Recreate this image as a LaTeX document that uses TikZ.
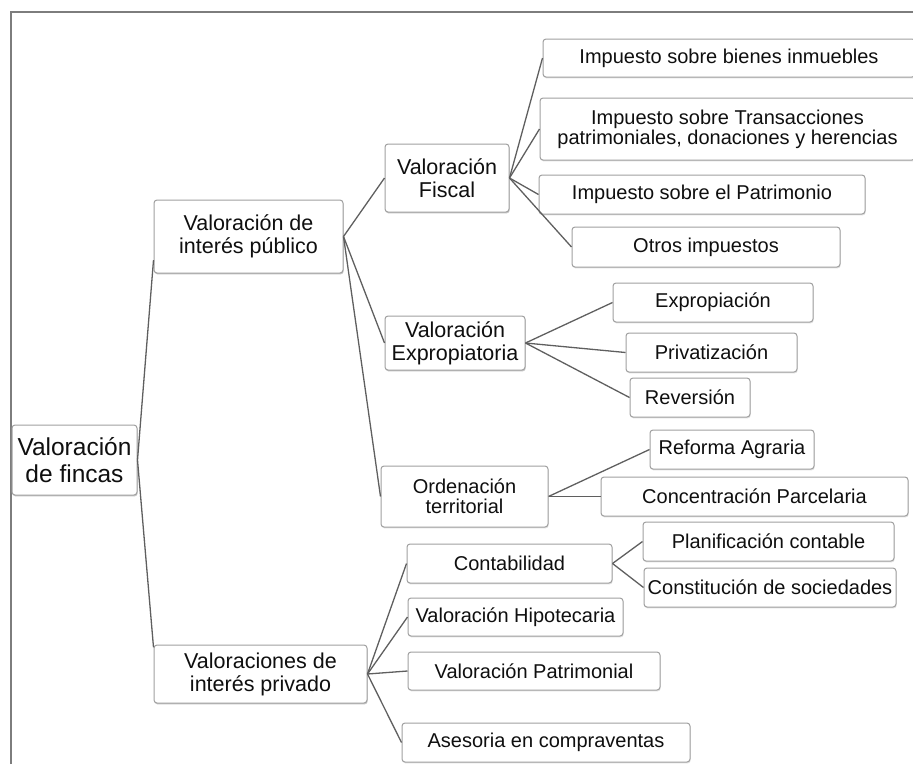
\documentclass[tikz,border=0pt]{standalone}
\usepackage{fontspec}
\setmainfont{Liberation Sans}
\usetikzlibrary{shadows}

\definecolor{boxgray}{RGB}{160,160,160}
\definecolor{linegray}{RGB}{95,95,95}
\definecolor{framegray}{RGB}{125,125,125}
\definecolor{textgray}{RGB}{15,15,15}

\tikzset{
    box/.style={draw=boxgray, line width=1pt, rounded corners=3pt, fill=white,
        align=center, inner sep=0pt, text=textgray,
        drop shadow={shadow xshift=0.6pt, shadow yshift=-1.4pt, opacity=0.25}},
    rootbox/.style={box, font=\fontsize{24.5}{27}\selectfont},
    midbox/.style={box, font=\fontsize{21.5}{23}\selectfont},
    leafbox/.style={box, font=\fontsize{20}{20}\selectfont},
    link/.style={draw=linegray, line width=1.3pt}
}

\begin{document}
\begin{tikzpicture}[x=1pt, y=-1pt]
    \useasboundingbox (0,0) rectangle (913,764);

    % frame
    \draw[framegray, line width=2pt] (11,764) -- (11,12) -- (913,12);

    \begin{scope}[every node/.style={leafbox}]

        \node[rootbox, minimum width=125pt, minimum height=70pt] (root) at (74.5,460) {Valoración\\de fincas};

        \node[midbox, minimum width=189pt, minimum height=73pt] (pub) at (248.5,236.5) {Valoración de\\interés público};
        \node[midbox, minimum width=213pt, minimum height=58pt] (priv) at (260.5,674) {Valoraciones de\\interés privado};

        \node[midbox, minimum width=124pt, minimum height=68pt] (fisc) at (447,178) {Valoración\\Fiscal};
        \node[midbox, minimum width=140pt, minimum height=54pt] (expr) at (455,343) {Valoración\\Expropiatoria};
        \node[minimum width=167pt, minimum height=61pt] (orde) at (464.5,496.5) {Ordenación\\territorial};

        \node[minimum width=372pt, minimum height=38pt] (ibi) at (729,58) {Impuesto sobre bienes inmuebles};
        \node[minimum width=375pt, minimum height=62pt] (itp) at (727.5,129) {Impuesto sobre Transacciones\\patrimoniales, donaciones y herencias};
        \node[minimum width=326pt, minimum height=39pt] (ipat) at (702,194.5) {Impuesto sobre el Patrimonio};
        \node[minimum width=268pt, minimum height=40pt] (otros) at (706,247) {Otros impuestos};

        \node[minimum width=200pt, minimum height=39pt] (expro) at (713,302.5) {Expropiación};
        \node[minimum width=171pt, minimum height=39pt] (privat) at (711.5,352.5) {Privatización};
        \node[minimum width=120pt, minimum height=39pt] (rever) at (690,397.5) {Reversión};

        \node[minimum width=164pt, minimum height=39pt] (refor) at (732,449.5) {Reforma Agraria};
        \node[minimum width=307pt, minimum height=39pt] (conc) at (754.5,496.5) {Concentración Parcelaria};

        \node[minimum width=205pt, minimum height=39pt] (conta) at (509.5,563.5) {Contabilidad};
        \node[minimum width=215pt, minimum height=38pt] (hipo) at (515.5,617) {Valoración Hipotecaria};
        \node[minimum width=252pt, minimum height=38pt] (patr) at (534,671) {Valoración Patrimonial};
        \node[minimum width=288pt, minimum height=39pt] (ases) at (546,742.5) {Asesoria en compraventas};

        \node[minimum width=251pt, minimum height=39pt] (plan) at (768.5,541.5) {Planificación contable};
        \node[minimum width=252pt, minimum height=39pt] (const) at (770,587.5) {Constitución de sociedades};

        \draw[link] (root.east) -- (pub.194);
        \draw[link] (root.east) -- (priv.166);

        \draw[link] (pub.east) -- (fisc.west);
        \draw[link] (pub.east) -- (expr.west);
        \draw[link] (pub.east) -- (orde.west);

        \draw[link] (fisc.east) -- (ibi.west);
        \draw[link] (fisc.east) -- (itp.west);
        \draw[link] (fisc.east) -- (ipat.west);
        \draw[link] (fisc.east) -- (otros.west);

        \draw[link] (expr.east) -- (expro.west);
        \draw[link] (expr.east) -- (privat.west);
        \draw[link] (expr.east) -- (rever.west);

        \draw[link] (orde.east) -- (refor.west);
        \draw[link] (orde.east) -- (conc.west);

        \draw[link] (priv.east) -- (conta.west);
        \draw[link] (priv.east) -- (hipo.west);
        \draw[link] (priv.east) -- (patr.west);
        \draw[link] (priv.east) -- (ases.west);

        \draw[link] (conta.east) -- (plan.west);
        \draw[link] (conta.east) -- (const.west);
    \end{scope}
\end{tikzpicture}
\end{document}
